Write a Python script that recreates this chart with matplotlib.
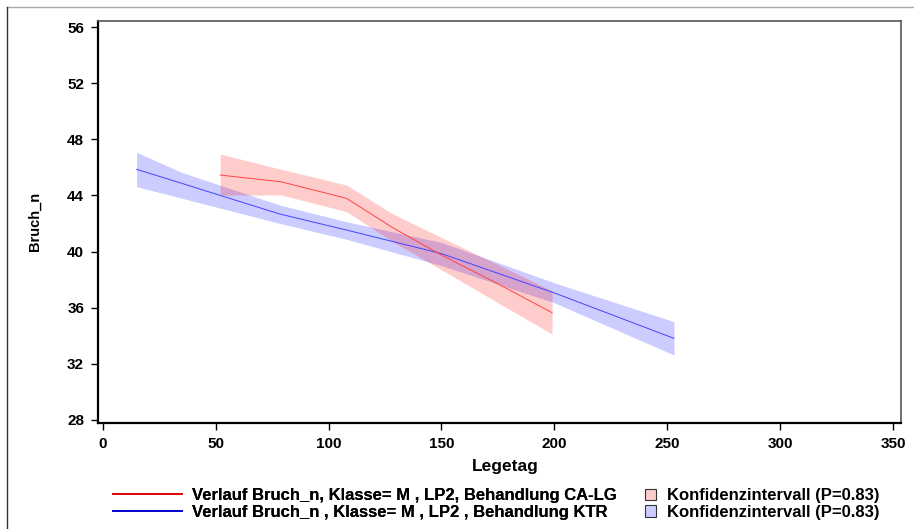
import matplotlib
matplotlib.use("Agg")
import matplotlib.pyplot as plt
from matplotlib.lines import Line2D
from matplotlib.patches import Patch

plt.rcParams['font.family'] = ['Liberation Sans', 'DejaVu Sans']

# CA-LG (red)
ca_x = [52, 79, 108, 128, 150, 175, 199]
ca_y = [45.45, 44.97, 43.79, 41.74, 39.75, 37.7, 35.64]
ca_lo = [44.03, 44.03, 42.84, 40.75, 38.7, 36.35, 34.12]
ca_hi = [46.95, 45.86, 44.74, 42.72, 41.0, 39.07, 37.2]

# KTR (blue)
ktr_x = [15, 35, 50, 78.5, 108, 150, 200, 253]
ktr_y = [45.86, 44.86, 44.1, 42.67, 41.53, 39.85, 37.05, 33.81]
ktr_lo = [44.62, 43.8, 43.18, 42.0, 40.87, 39.0, 36.35, 32.62]
ktr_hi = [47.07, 45.64, 44.83, 43.31, 42.12, 40.65, 37.77, 35.0]

x_ticks = [0, 50, 100, 150, 200, 250, 300, 350]
y_ticks = [28, 32, 36, 40, 44, 48, 52, 56]

lbl_ca = "Verlauf Bruch_n, Klasse= M , LP2, Behandlung CA-LG"
lbl_ktr = "Verlauf Bruch_n , Klasse= M , LP2 , Behandlung KTR"
lbl_ci = "Konfidenzintervall (P=0.83)"

fig = plt.figure(figsize=(9.14, 5.29), dpi=100)
W, H = 914, 529
ax = fig.add_axes([98 / W, 1 - 422.7 / H, (900.7 - 98) / W, (422.7 - 21) / H])

ax.fill_between(ktr_x, ktr_lo, ktr_hi, color=(0, 0, 1), alpha=0.2, linewidth=0)
ax.fill_between(ca_x, ca_lo, ca_hi, color=(1, 0, 0), alpha=0.2, linewidth=0)
ax.plot(ktr_x, ktr_y, color='#4444ff', linewidth=0.7)
ax.plot(ca_x, ca_y, color='#ff4444', linewidth=0.7)

ax.set_xlim(-2.1, 353.4)
ax.set_ylim(27.8, 56.43)
ax.set_xticks(x_ticks)
ax.set_yticks(y_ticks)
ax.tick_params(axis='both', direction='out', length=5, width=1, labelsize=11, pad=5)
for t in ax.get_xticklabels() + ax.get_yticklabels():
    t.set_fontweight('bold')
ax.set_xlabel("Legetag", fontsize=12.5, fontweight='bold', va='center')
ax.xaxis.set_label_coords(0.508, -0.108)
ax.set_ylabel("Bruch_n", fontsize=10.5, fontweight='bold', va='center')
ax.yaxis.set_label_coords(-(98 - 35) / (900.7 - 98), 0.5)

for s in ['left', 'bottom']:
    ax.spines[s].set_linewidth(1.6)
    ax.spines[s].set_color('black')
for s in ['top', 'right']:
    ax.spines[s].set_linewidth(1.2)
    ax.spines[s].set_color('#555555')

# outer frame lines
fig.add_artist(Line2D([7 / W, 1], [1 - 7 / H, 1 - 7 / H], color='#aaaaaa', linewidth=1))
fig.add_artist(Line2D([7 / W, 7 / W], [0, 1 - 7 / H], color='#333333', linewidth=1))

fs = 12
em = fs * 100 / 72
h1 = [Line2D([], [], color='#dd0000', linewidth=1.2),
      Line2D([], [], color='#0000cc', linewidth=1.2)]
leg1 = fig.legend(h1, [lbl_ca, lbl_ktr], loc='center left',
                  bbox_to_anchor=(113 / W, 1 - 504 / H), frameon=False,
                  borderaxespad=0, borderpad=0,
                  handlelength=69 / em, handletextpad=10 / em, labelspacing=0.1,
                  prop={'weight': 'bold', 'size': fs})
h2 = [Patch(facecolor='#ffcccc', edgecolor='#333333', linewidth=0.8),
      Patch(facecolor='#ccccff', edgecolor='#333333', linewidth=0.8)]
leg2 = fig.legend(h2, [lbl_ci, lbl_ci], loc='center left',
                  bbox_to_anchor=(645 / W, 1 - 504 / H), frameon=False,
                  borderaxespad=0, borderpad=0,
                  handlelength=11 / em, handleheight=11 / em, handletextpad=11 / em,
                  labelspacing=0.1,
                  prop={'weight': 'bold', 'size': fs})
fig.add_artist(leg1)

fig.savefig("out.png", dpi=100)
